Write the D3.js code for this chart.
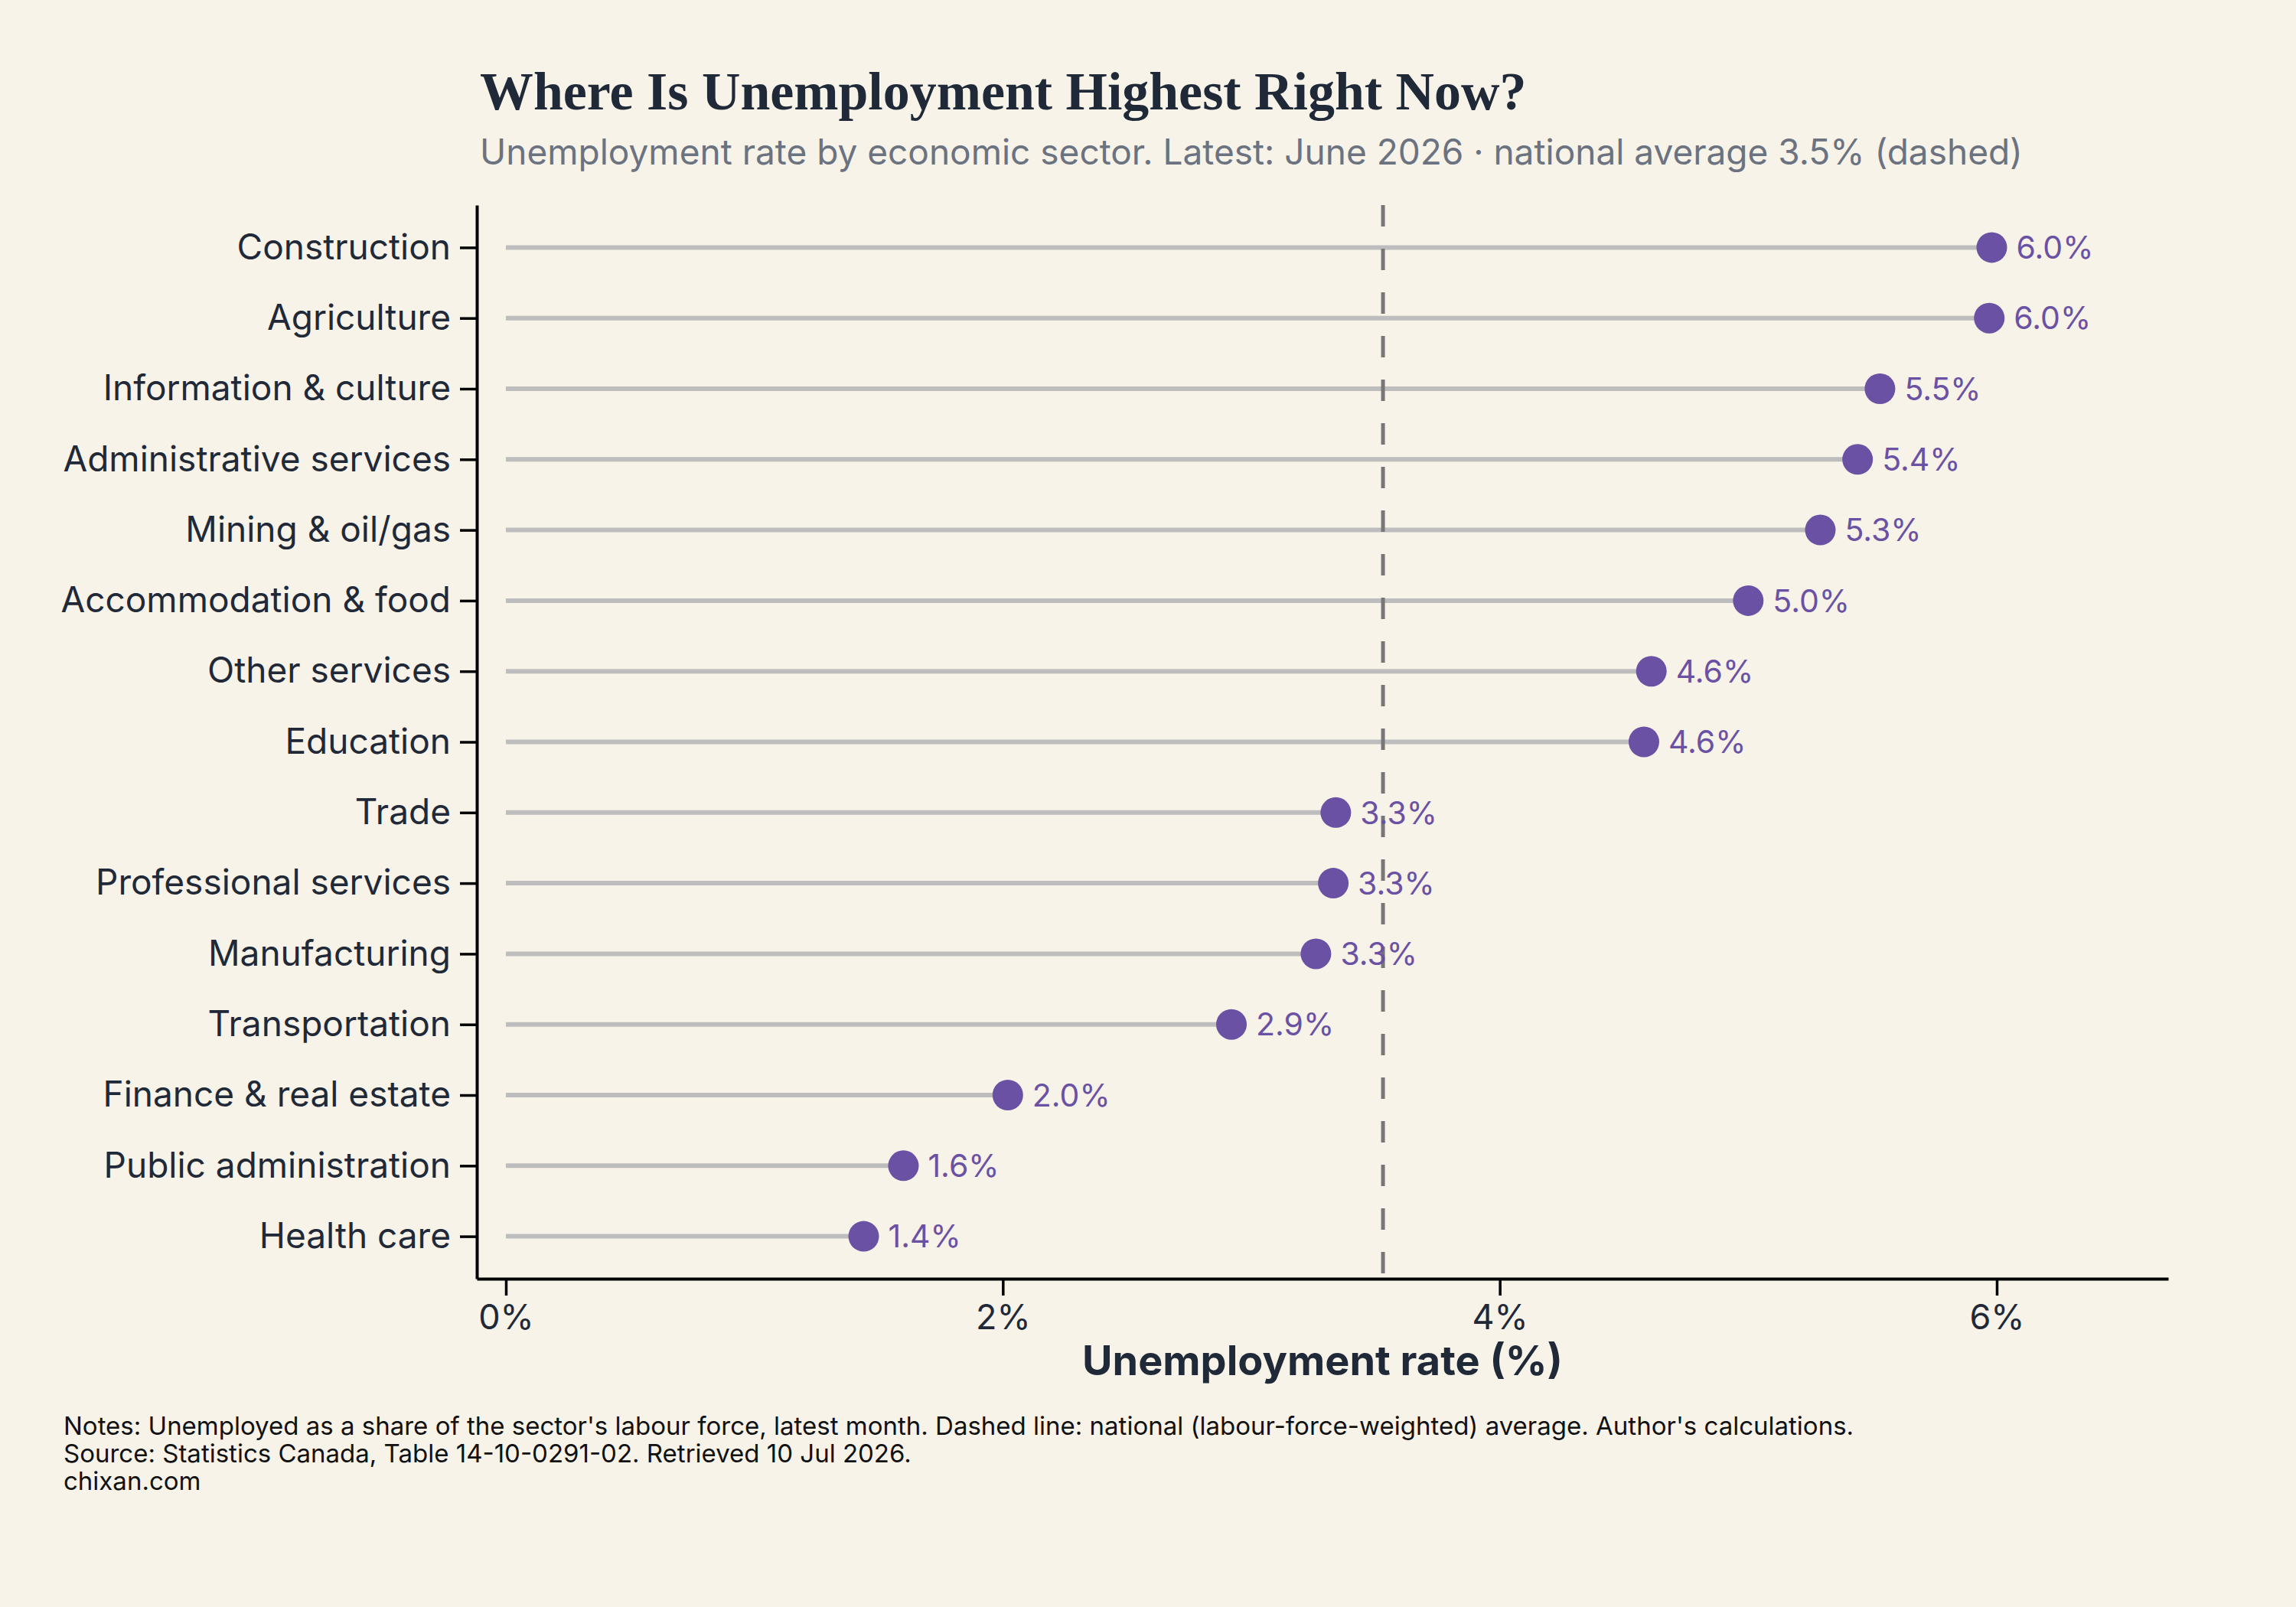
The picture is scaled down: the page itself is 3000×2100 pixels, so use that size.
<!DOCTYPE html>
<html>
<head>
<meta charset="utf-8">
<script src="https://cdn.jsdelivr.net/npm/d3@7"></script>
<style>
	body { margin: 0; background: #f7f3e9; }
	text { font-family: Inter, "Noto Sans", sans-serif; }
</style>
</head>
<body>
<div class="chart"></div>
<script>
const sectors = [
	"Construction", "Agriculture", "Information & culture", "Administrative services",
	"Mining & oil/gas", "Accommodation & food", "Other services", "Education", "Trade",
	"Professional services", "Manufacturing", "Transportation", "Finance & real estate",
	"Public administration", "Health care"
];
const rates = [5.98, 5.97, 5.53, 5.44, 5.29, 5.0, 4.61, 4.58, 3.34, 3.33, 3.26, 2.92, 2.02, 1.6, 1.44];
const nationalAvg = 3.53;
const xTicks = [0, 2, 4, 6];
const notes = [
	"Notes: Unemployed as a share of the sector's labour force, latest month. Dashed line: national (labour-force-weighted) average. Author's calculations.",
	"Source: Statistics Canada, Table 14-10-0291-02. Retrieved 10 Jul 2026.",
	"chixan.com"
];

const W = 3000, H = 2100;
const margin = { top: 268, right: 167, bottom: 429, left: 623 };
const width = W - margin.left - margin.right,
	height = H - margin.top - margin.bottom;

const svg = d3.select(".chart").append("svg")
	.attr("width", W).attr("height", H)
	.style("background", "#f7f3e9");

const ink = "#1f2937";

// title + subtitle
const title = svg.append("text")
	.attr("x", 627).attr("y", 143)
	.attr("fill", ink)
	.style("font-family", "'Liberation Serif', 'DejaVu Serif', serif")
	.style("font-weight", "700")
	.style("font-size", "64px")
	.text("Where Is Unemployment Highest Right Now?");
// fit to the width seen in the reference
const tw = title.node().getComputedTextLength();
title.style("font-size", (64 * 1368 / tw).toFixed(1) + "px");

svg.append("text")
	.attr("x", 627).attr("y", 215)
	.attr("fill", "#6b7280")
	.style("font-size", "46px")
	.text("Unemployment rate by economic sector. Latest: June 2026 · national average 3.5% (dashed)");

const g = svg.append("g").attr("transform", `translate(${margin.left},${margin.top})`);

const x = d3.scaleLinear().domain([-0.117, 6.69]).range([0, width]);
const y = d3.scalePoint().domain(sectors).range([0, height]).padding(0.6);

// axes
g.append("g")
	.attr("transform", `translate(0,${height})`)
	.call(d3.axisBottom(x).tickValues(xTicks).tickFormat((d) => d + "%").tickSize(22).tickSizeOuter(0).tickPadding(12))
	.call((a) => a.select(".domain").attr("stroke", "#000").attr("stroke-width", 4))
	.call((a) => a.selectAll(".tick line").attr("stroke", "#000").attr("stroke-width", 3.5))
	.call((a) => a.selectAll(".tick text").attr("fill", ink).style("font-size", "45px").style("font-family", "Inter"));

g.append("g")
	.call(d3.axisLeft(y).tickSize(22).tickSizeOuter(0).tickPadding(12))
	.call((a) => a.select(".domain").attr("stroke", "#000").attr("stroke-width", 4))
	.call((a) => a.selectAll(".tick line").attr("stroke", "#000").attr("stroke-width", 3.5))
	.call((a) => a.selectAll(".tick text").attr("fill", ink).style("font-size", "46px").style("font-family", "Inter"));

// stems
g.selectAll(".stem")
	.data(sectors)
	.enter()
	.append("line")
	.attr("x1", x(0))
	.attr("x2", (d, i) => x(rates[i]))
	.attr("y1", (d) => y(d))
	.attr("y2", (d) => y(d))
	.attr("stroke", "#bdbdbd")
	.attr("stroke-width", 6);

// national average
g.append("line")
	.attr("x1", x(nationalAvg)).attr("x2", x(nationalAvg))
	.attr("y1", 0).attr("y2", height)
	.attr("stroke", "#777777")
	.attr("stroke-width", 5)
	.attr("stroke-dasharray", "28,29");

// dots + value labels
g.selectAll(".dot")
	.data(sectors)
	.enter()
	.append("circle")
	.attr("cx", (d, i) => x(rates[i]))
	.attr("cy", (d) => y(d))
	.attr("r", 20)
	.attr("fill", "#6a51a3");

g.selectAll(".val")
	.data(sectors)
	.enter()
	.append("text")
	.attr("x", (d, i) => x(rates[i]) + 32)
	.attr("y", (d) => y(d))
	.attr("dy", "0.36em")
	.attr("fill", "#6a51a3")
	.style("font-size", "41px")
	.text((d, i) => rates[i].toFixed(1) + "%");

// x label
svg.append("text")
	.attr("x", margin.left + width / 2)
	.attr("y", 1797)
	.attr("text-anchor", "middle")
	.attr("fill", ink)
	.style("font-size", "54px")
	.style("font-weight", "700")
	.text("Unemployment rate (%)");

// notes
svg.selectAll(".note")
	.data(notes)
	.enter()
	.append("text")
	.attr("x", 83)
	.attr("y", (d, i) => 1875 + i * 36)
	.attr("fill", "#111")
	.style("font-size", "33px")
	.text((d) => d);
</script>
</body>
</html>
